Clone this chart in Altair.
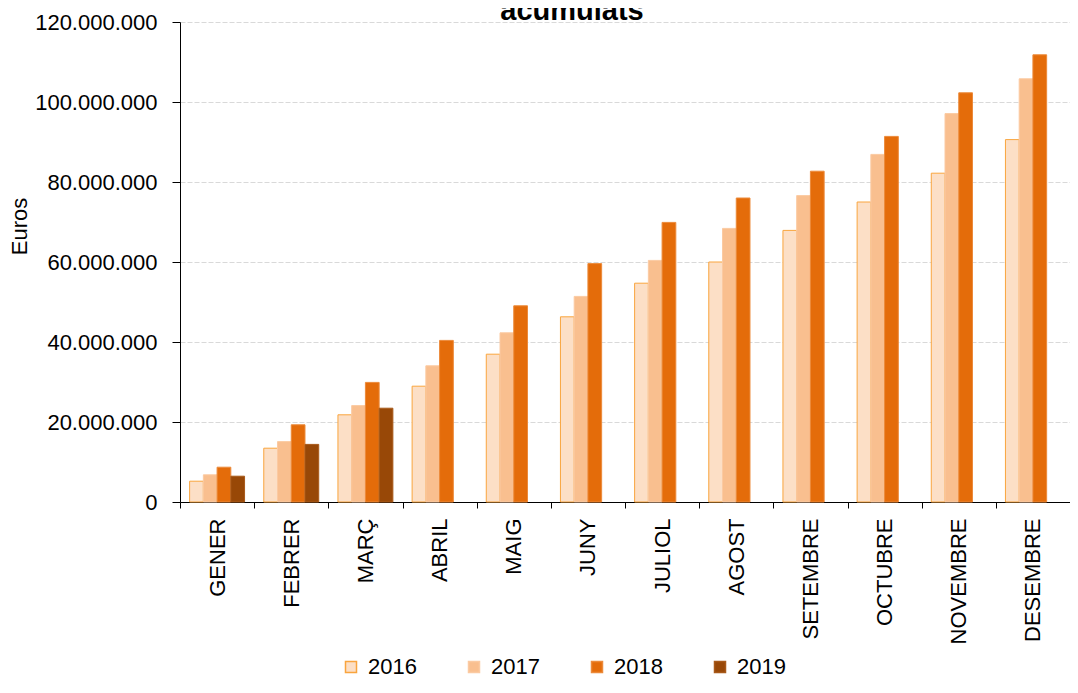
import altair as alt
import pandas as pd

months = ["GENER", "FEBRER", "MARÇ", "ABRIL", "MAIG", "JUNY", "JULIOL",
          "AGOST", "SETEMBRE", "OCTUBRE", "NOVEMBRE", "DESEMBRE"]
years = ["2016", "2017", "2018", "2019"]

v2016 = [5_200_000, 13_450_000, 21_800_000, 28_950_000, 36_950_000, 46_300_000,
         54_700_000, 60_000_000, 67_900_000, 75_000_000, 82_200_000, 90_600_000]
v2017 = [6_800_000, 15_100_000, 24_100_000, 34_050_000, 42_300_000, 51_400_000,
         60_400_000, 68_400_000, 76_600_000, 86_900_000, 97_100_000, 105_800_000]
v2018 = [8_700_000, 19_300_000, 29_900_000, 40_400_000, 49_050_000, 59_600_000,
         69_900_000, 76_000_000, 82_700_000, 91_400_000, 102_300_000, 111_800_000]
v2019 = [6_450_000, 14_400_000, 23_450_000]

y_ticks = [0, 20_000_000, 40_000_000, 60_000_000, 80_000_000, 100_000_000, 120_000_000]
title_text = ["acumulats"]

fill_colors = ["#fcdfc6", "#f9bf8f", "#e46c0a", "#984807"]
stroke_colors = ["#f9a53e", "#fbcaa2", "#ec8a3a", "#a85a1a"]

rows = []
for yr, vals in zip(years, [v2016, v2017, v2018, v2019]):
    for m, v in zip(months, vals):
        rows.append({"month": m, "year": yr, "value": v})
df = pd.DataFrame(rows)
title_df = pd.DataFrame({"t": title_text})

legend_kw = dict(
    title=None, orient="none", legendX=160, legendY=634, direction="horizontal",
    columns=4, columnPadding=46, symbolType="square", symbolSize=121,
    labelFontSize=22, labelOffset=6, padding=0, symbolStrokeWidth=1.5,
    labelColor="black",
)

bars = alt.Chart(df).mark_bar(strokeWidth=1).encode(
    x=alt.X(
        "month:N", sort=months,
        scale=alt.Scale(paddingInner=0, paddingOuter=0),
        axis=alt.Axis(title=None, labelAngle=270, labelAlign="right", labelBaseline="middle",
                      tickBand="extent", tickSize=6, labelPadding=10, labelFontSize=22,
                      domainColor="black", tickColor="black", labelColor="black", grid=False),
    ),
    xOffset=alt.XOffset("year:N", scale=alt.Scale(domain=years, paddingInner=0, paddingOuter=0.7)),
    y=alt.Y(
        "value:Q",
        scale=alt.Scale(domain=[0, 120_000_000], nice=False),
        axis=alt.Axis(values=y_ticks, title="Euros",
                      labelExpr="replace(format(datum.value, ','), regexp(',', 'g'), '.')",
                      tickSize=8, labelPadding=15, labelFontSize=22, labelColor="black",
                      grid=True, gridDash=[5, 2], gridColor="#d9d9d9",
                      domainColor="black", tickColor="black",
                      titleX=-161, titleY=204, titleAngle=270, titleAlign="center",
                      titleBaseline="middle", titleFontSize=22, titleFontWeight="normal",
                      titleColor="black"),
    ),
    fill=alt.Fill("year:N", scale=alt.Scale(domain=years, range=fill_colors),
                  legend=alt.Legend(**legend_kw)),
    stroke=alt.Stroke("year:N", scale=alt.Scale(domain=years, range=stroke_colors),
                      legend=alt.Legend(**legend_kw)),
)

title = alt.Chart(title_df).mark_text(
    fontSize=29, fontWeight="bold", baseline="alphabetic", align="center", color="black"
).encode(text="t:N", x=alt.value(392), y=alt.value(-2))

chart = alt.layer(bars, title).properties(
    width=890,
    height=480,
    autosize=alt.AutoSizeParams(type="none"),
    padding={"left": 172, "top": 14, "right": 0, "bottom": 178},
).configure(
    font="Liberation Sans",
).configure_view(stroke=None)

chart.save("out.html", embed_options={"renderer": "svg", "actions": False})
